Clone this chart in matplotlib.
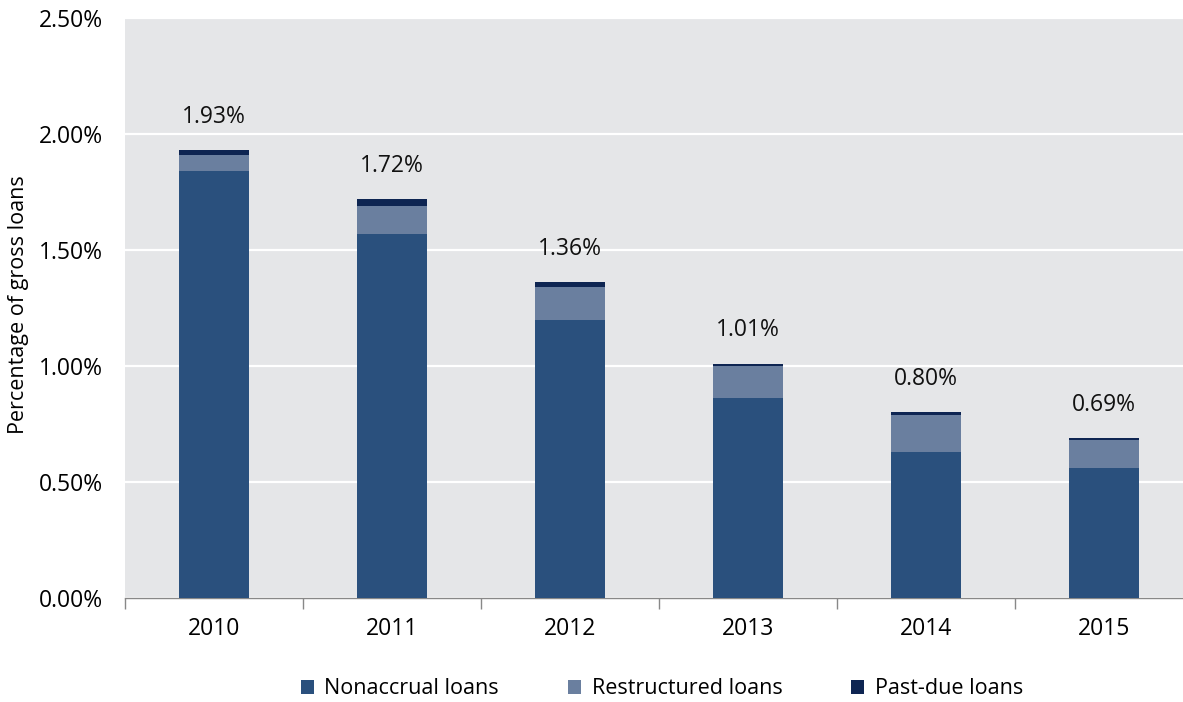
import matplotlib
matplotlib.use("Agg")
import matplotlib.pyplot as plt
from matplotlib.ticker import FuncFormatter, FixedLocator
import numpy as np

years = ["2010", "2011", "2012", "2013", "2014", "2015"]
nonaccrual = [1.84, 1.57, 1.20, 0.86, 0.63, 0.56]
restructured = [0.07, 0.12, 0.14, 0.14, 0.16, 0.12]
past_due = [0.02, 0.03, 0.02, 0.01, 0.01, 0.01]
totals = [1.93, 1.72, 1.36, 1.01, 0.80, 0.69]
series_names = ["Nonaccrual loans", "Restructured loans", "Past-due loans"]

plt.rcParams['font.family'] = ['Open Sans', 'DejaVu Sans']

W, H = 1183, 702
fig = plt.figure(figsize=(W / 100, H / 100), dpi=100)
left, right, bottom, top = 125, 1193, 598, 18
ax = fig.add_axes([left / W, 1 - bottom / H, (right - left) / W, (bottom - top) / H])
ax.set_facecolor("#E5E6E8")

x = np.arange(len(years))
c1, c2, c3 = "#2A507D", "#6A7F9F", "#0E2552"
bw = 0.39
ax.bar(x, nonaccrual, bw, color=c1, label=series_names[0], zorder=3)
b2 = np.array(nonaccrual)
ax.bar(x, restructured, bw, bottom=b2, color=c2, label=series_names[1], zorder=3)
b3 = b2 + np.array(restructured)
ax.bar(x, past_due, bw, bottom=b3, color=c3, label=series_names[2], zorder=3)

for xi, t in zip(x, totals):
    ax.annotate(f"{t:.2f}%", (xi, t), xytext=(0, 24), textcoords="offset points",
                ha="center", va="center", fontsize=16.5, color="#111111")

ax.set_xlim(-0.5, len(years) - 0.5)
ax.set_ylim(0, 2.5)
ax.yaxis.set_major_locator(FixedLocator([0, 0.5, 1.0, 1.5, 2.0, 2.5]))
ax.yaxis.set_major_formatter(FuncFormatter(lambda v, p: f"{v:.2f}%"))
ax.grid(axis="y", color="white", linewidth=1.6, zorder=0)
ax.set_axisbelow(True)

ax.set_xticks(x)
ax.set_xticklabels(years)
ax.set_xticks(np.arange(-0.5, len(years), 1.0), minor=True)
ax.tick_params(axis="x", which="major", length=0, pad=14, labelsize=16.5)
ax.tick_params(axis="x", which="minor", length=8, color="#888888", width=1)
ax.tick_params(axis="y", length=0, pad=16, labelsize=16.5)

for s in ["top", "right", "left"]:
    ax.spines[s].set_visible(False)
ax.spines["bottom"].set_color("#888888")
ax.spines["bottom"].set_linewidth(1)

ax.set_ylabel("Percentage of gross loans", fontsize=15.5, va="center")
ax.yaxis.set_label_coords(-(125 - 19) / (right - left), 0.505)

fig.legend(loc="center", bbox_to_anchor=(662 / W, 1 - 689 / H), ncol=3, frameon=False,
           fontsize=15.5, handlelength=0.6, handleheight=0.6, columnspacing=3.2,
           handletextpad=0.5)

fig.savefig("out.png", dpi=100)
